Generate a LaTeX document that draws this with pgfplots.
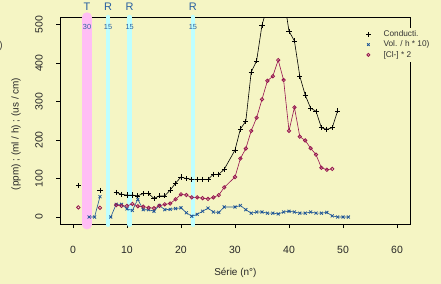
\documentclass[border=0pt]{standalone}
\usepackage{pgfplots}
\pgfplotsset{compat=1.18}
\usepackage{pgfplotstable}
\usepackage{fontspec}
\setmainfont{Liberation Sans}
\definecolor{bg}{RGB}{245,245,196}
\definecolor{vblue}{RGB}{30,85,150}
\definecolor{maroonc}{RGB}{150,20,80}
\definecolor{pinkband}{RGB}{255,190,245}
\definecolor{cyanband}{RGB}{190,255,255}
\definecolor{lblue}{RGB}{40,95,160}

\pgfplotstableread{
x y
1 82
2 nan
5 69
6 nan
8 64
9 59
10 57
11 57
12 55
13 61
14 61
15 48
16 55
17 55
18 70
19 88
20 104
21 100
22 98
23 98
24 98
25 98
26 111
27 111
28 124
30 174
31 229
32 249
33 377
34 406
35 499
36 548
37 585
38 595
39 574
40 483
41 458
42 366
43 317
44 283
45 275
46 232
47 228
48 232
49 276
}\conduct

\pgfplotstableread{
x y
3 0
4 0
5 53
6 nan
7 0
8 33
9 33
10 21
11 17
12 46
13 19
14 19
15 15
16 30
17 19
18 20
19 22
20 24
21 11
22 2
23 7
24 15
25 23
26 13
27 12
28 26
30 26
31 30
32 19
33 10
34 13
35 13
36 10
37 10
38 8
39 13
40 15
41 13
42 10
43 10
44 13
45 10
46 10
47 12
48 3
49 0
50 0
51 0
}\vol

\pgfplotstableread{
x y
1 25
2 nan
5 24
6 nan
8 31
9 29
10 29
11 34
12 28
13 27
14 24
15 23
16 29
17 33
18 35
19 46
20 59
21 57
22 51
23 51
24 49
25 47
26 51
27 57
28 77
30 104
31 152
32 178
33 224
34 258
35 306
36 354
37 366
38 408
39 356
40 224
41 285
42 209
43 199
44 179
45 162
46 128
47 123
48 125
}\chlor

\begin{document}
\begin{tikzpicture}
\fill[bg] (-60bp,-59.3bp) rectangle (381bp,224.7bp);
\useasboundingbox (-60bp,-59.3bp) rectangle (381bp,224.7bp);
\begin{axis}[
  at={(0,0)}, anchor=south west, scale only axis,
  width=350bp, height=207.7bp,
  xmin=-2.4, xmax=62.4, ymin=-20, ymax=520,
  clip mode=individual,
  axis line style={black, line width=0.8bp},
  xtick={0,10,...,60}, ytick={0,100,...,500},
  tick pos=left, tick align=outside, major tick length=3.5bp,
  tick style={black, line width=0.6bp},
  ticklabel style={font=\fontsize{10.5}{12}\selectfont, text=black!85},
  /pgf/number format/assume math mode=true,
  xticklabel style={anchor=center, yshift=-22bp},
  yticklabel style={anchor=center, xshift=-17.5bp, rotate=90},
  xlabel={Série (n°)},
  xlabel style={at={(axis description cs:0.501,-0.2325)}, anchor=center, font=\fontsize{10}{12}\selectfont, text=black!85},
  ylabel={(ppm) ; (ml / h) ; (us / cm)},
  ylabel style={at={(axis description cs:-0.1257,0.437)}, anchor=center, font=\fontsize{10}{12}\selectfont, text=black!85},
  unbounded coords=jump,
  legend image code/.code={\path (-6bp,0bp) (13bp,0bp); \draw[#1] plot coordinates {(0bp,0bp)};},
  legend style={at={(axis description cs:0.86,0.95)}, anchor=north west, fill=bg, draw=none,
    font=\fontsize{8.3}{9}\selectfont, text=black!80, row sep=-1.2bp, inner sep=1bp},
  legend cell align=left,
]
\draw[pinkband, line width=9.4bp, line cap=round] (axis cs:2.6,-20) -- (axis cs:2.6,520);
\draw[cyanband, line width=4.7bp, line cap=round] (axis cs:6.5,-20) -- (axis cs:6.5,520);
\draw[cyanband, line width=4.7bp, line cap=round] (axis cs:10.5,-20) -- (axis cs:10.5,520);
\draw[cyanband, line width=4.7bp, line cap=round] (axis cs:22.2,-20) -- (axis cs:22.2,520);

\addplot[black, line width=0.6bp, mark=+, mark size=2.6bp, mark options={line width=0.7bp}, forget plot] table {\conduct};
\addplot[vblue, line width=0.6bp, mark=x, mark size=2.1bp, mark options={line width=0.8bp}, forget plot] table {\vol};
\addplot[maroonc, line width=0.6bp, mark=o, mark size=1.7bp, mark options={fill=bg, line width=0.8bp}, forget plot] table {\chlor};

\node[text=lblue, font=\fontsize{11}{12}\selectfont] at (axis cs:2.6,546) {T};
\node[text=lblue, font=\fontsize{11}{12}\selectfont] at (axis cs:6.5,546) {R};
\node[text=lblue, font=\fontsize{11}{12}\selectfont] at (axis cs:10.5,546) {R};
\node[text=lblue, font=\fontsize{11}{12}\selectfont] at (axis cs:22.2,546) {R};
\node[text=lblue, font=\fontsize{7.4}{8}\selectfont] at (axis cs:2.6,495) {30};
\node[text=lblue, font=\fontsize{7.4}{8}\selectfont] at (axis cs:6.5,495) {15};
\node[text=lblue, font=\fontsize{7.4}{8}\selectfont] at (axis cs:10.5,495) {15};
\node[text=lblue, font=\fontsize{7.4}{8}\selectfont] at (axis cs:22.2,495) {15};

\addlegendimage{only marks, mark=+, black, mark size=2.2bp, mark options={line width=0.7bp}}
\addlegendentry{Conducti.}
\addlegendimage{only marks, mark=x, vblue, mark size=1.8bp, mark options={line width=0.8bp}}
\addlegendentry{Vol. / h * 10)}
\addlegendimage{only marks, mark=o, maroonc, mark size=1.5bp, mark options={line width=0.8bp}}
\addlegendentry{[Cl-] * 2}
\end{axis}
\node[anchor=east, font=\fontsize{10}{12}\selectfont, text=black!75, inner sep=0pt] at (-57bp,179bp) {)};
\end{tikzpicture}
\end{document}
